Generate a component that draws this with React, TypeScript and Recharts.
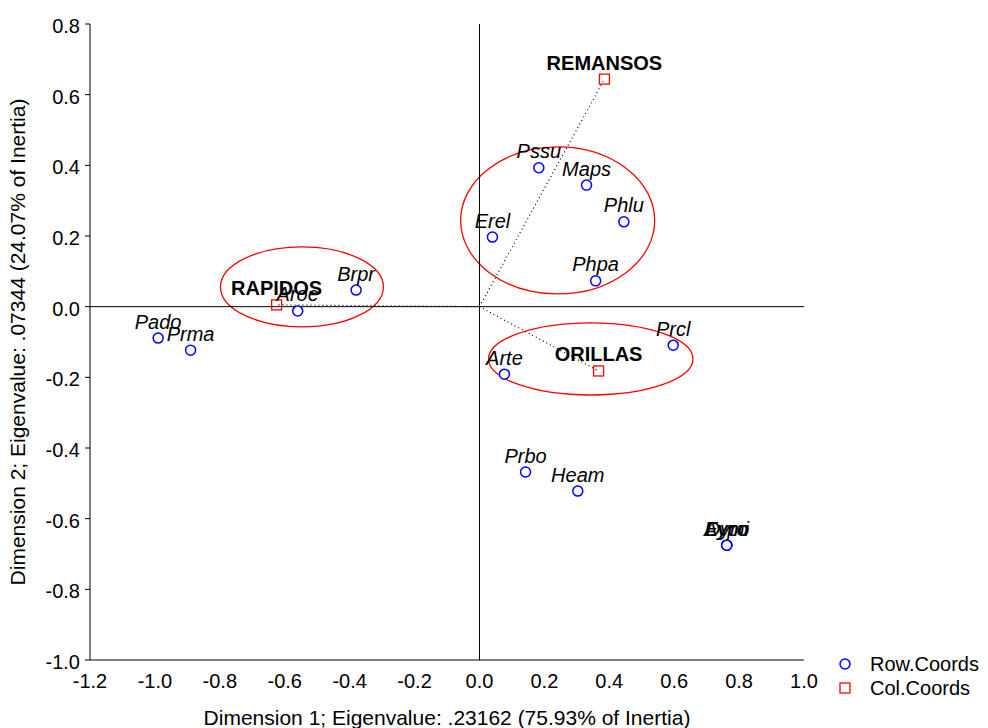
import React from 'react';
import {
  ScatterChart, Scatter, XAxis, YAxis, ReferenceLine, ReferenceArea, LabelList,
} from 'recharts';

const FONT = '"Liberation Sans", Arial, Helvetica, sans-serif';

// Row.Coords — species on dimensions 1 and 2
const rowNames = ['Pado', 'Prma', 'Aroe', 'Brpr', 'Erel', 'Pssu', 'Maps', 'Phlu', 'Phpa', 'Prcl', 'Arte', 'Prbo', 'Heam', 'Aypo', 'Eymi', 'Dyro'];
const rowDim1 = [-0.99, -0.89, -0.56, -0.38, 0.04, 0.183, 0.33, 0.445, 0.358, 0.597, 0.077, 0.142, 0.303, 0.762, 0.762, 0.762];
const rowDim2 = [-0.089, -0.123, -0.012, 0.047, 0.197, 0.393, 0.344, 0.24, 0.073, -0.109, -0.191, -0.468, -0.522, -0.675, -0.675, -0.675];

// Col.Coords — habitat types
const colNames = ['REMANSOS', 'RAPIDOS', 'ORILLAS'];
const colDim1 = [0.385, -0.625, 0.367];
const colDim2 = [0.644, 0.005, -0.182];

// grouping ellipses (centre + half axes, in axis units)
const groupCx = [0.241, -0.547, 0.343];
const groupCy = [0.244, 0.056, -0.148];
const groupRx = [0.299, 0.251, 0.315];
const groupRy = [0.208, 0.113, 0.102];

const xTicks = [-1.2, -1.0, -0.8, -0.6, -0.4, -0.2, 0.0, 0.2, 0.4, 0.6, 0.8, 1.0];
const xTicksAll = [-1.2, -1.1, -1.0, -0.9, -0.8, -0.7, -0.6, -0.5, -0.4, -0.3, -0.2, -0.1, 0.0, 0.1, 0.2, 0.3, 0.4, 0.5, 0.6, 0.7, 0.8, 0.9, 1.0];
const yTicks = [-1.0, -0.8, -0.6, -0.4, -0.2, 0.0, 0.2, 0.4, 0.6, 0.8];
const yTicksMinor = [-0.9, -0.7, -0.5, -0.3, -0.1, 0.1, 0.3, 0.5, 0.7];
const yTicksAll = [-1.0, -0.9, -0.8, -0.7, -0.6, -0.5, -0.4, -0.3, -0.2, -0.1, 0.0, 0.1, 0.2, 0.3, 0.4, 0.5, 0.6, 0.7, 0.8];

const rows = rowNames.map((name, i) => ({ name, x: rowDim1[i], y: rowDim2[i] }));
const cols = colNames.map((name, i) => ({ name, x: colDim1[i], y: colDim2[i] }));
const groups = groupCx.map((cx, i) => ({
  x1: cx - groupRx[i], x2: cx + groupRx[i],
  y1: groupCy[i] - groupRy[i], y2: groupCy[i] + groupRy[i],
}));

const fmt = (v: number) => v.toFixed(1);

const RowDot = (p: any) => (
  <circle cx={p.cx} cy={p.cy} r={5} fill="#fff" stroke="#0000ff" strokeWidth={1.5} />
);
const ColBox = (p: any) => (
  <rect x={p.cx - 5} y={p.cy - 5} width={10} height={10} fill="none" stroke="#ff0000" strokeWidth={1.3} />
);
// ellipse inscribed in the reference area box
const Ellipse = (p: any) => (
  <ellipse
    cx={p.x + p.width / 2}
    cy={p.y + p.height / 2}
    rx={Math.abs(p.width) / 2}
    ry={Math.abs(p.height) / 2}
    fill="none"
    stroke="#ff0000"
    strokeWidth={1.3}
  />
);

const tickStyle = { fontSize: 20, fill: '#000', fontFamily: FONT };

const XTitle = (p: any) => {
  const vb = p.viewBox;
  return (
    <text x={vb.x + vb.width / 2} y={725} textAnchor="middle" fontSize={21} fontFamily={FONT} fill="#000">
      Dimension 1; Eigenvalue: .23162 (75.93% of Inertia)
    </text>
  );
};
const YTitle = (p: any) => {
  const vb = p.viewBox;
  const cy = vb.y + vb.height / 2;
  return (
    <text transform={`translate(25, ${cy}) rotate(-90)`} textAnchor="middle" fontSize={21} fontFamily={FONT} fill="#000">
      Dimension 2; Eigenvalue: .07344 (24.07% of Inertia)
    </text>
  );
};

export default function App() {
  return (
    <div style={{ position: 'absolute', left: 0, top: 0, width: 988, height: 728, background: '#fff', fontFamily: FONT }}>
      <ScatterChart width={988} height={728} margin={{ top: 24, right: 184, bottom: 0, left: 0 }}>
        <XAxis
          xAxisId="x" type="number" dataKey="x" domain={[-1.2, 1]} allowDataOverflow
          ticks={xTicks} tickFormatter={fmt} tickLine={false} tickSize={6} tickMargin={8}
          axisLine={{ stroke: '#000' }} tick={tickStyle} height={68} label={XTitle}
        />
        <XAxis
          xAxisId="xMinor" type="number" domain={[-1.2, 1]} allowDataOverflow mirror
          ticks={xTicksAll} tick={false} tickSize={5} axisLine={false} tickLine={{ stroke: '#000' }} height={0}
        />
        <XAxis
          xAxisId="xTop" type="number" orientation="top" domain={[-1.2, 1]} allowDataOverflow mirror
          ticks={xTicksAll} tick={false} tickSize={5} axisLine={{ stroke: '#000' }} tickLine={{ stroke: '#000' }} height={0}
        />
        <YAxis
          yAxisId="y" type="number" dataKey="y" domain={[-1, 0.8]} allowDataOverflow
          ticks={yTicks} tickFormatter={fmt} tickSize={5} tickMargin={5}
          axisLine={{ stroke: '#000' }} tickLine={{ stroke: '#000' }} tick={{ ...tickStyle, dy: 2 }} width={90} label={YTitle}
        />
        <YAxis
          yAxisId="yMinor" type="number" domain={[-1, 0.8]} allowDataOverflow mirror
          ticks={yTicksMinor} tick={false} tickSize={5} axisLine={false} tickLine={{ stroke: '#000' }} width={0}
        />
        <YAxis
          yAxisId="yRight" type="number" orientation="right" domain={[-1, 0.8]} allowDataOverflow mirror
          ticks={yTicksAll} tick={false} tickSize={5} axisLine={{ stroke: '#000' }} tickLine={{ stroke: '#000' }} width={0}
        />

        {groups.map((g, i) => (
          <ReferenceArea
            key={`grp-${i}`} xAxisId="x" yAxisId="y"
            x1={g.x1} x2={g.x2} y1={g.y1} y2={g.y2} shape={Ellipse}
          />
        ))}
        <ReferenceLine xAxisId="x" yAxisId="y" x={0} stroke="#000" strokeWidth={1} />
        <ReferenceLine xAxisId="x" yAxisId="y" y={0} stroke="#000" strokeWidth={1} />
        {cols.map(c => (
          <ReferenceLine
            key={`seg-${c.name}`} xAxisId="x" yAxisId="y"
            segment={[{ x: 0, y: 0 }, { x: c.x, y: c.y }]}
            stroke="#000" strokeWidth={1.2} strokeDasharray="1 3"
          />
        ))}

        <Scatter xAxisId="x" yAxisId="y" data={rows} shape={RowDot} isAnimationActive={false}>
          <LabelList dataKey="name" position="top" fontSize={20} fontStyle="italic" fontFamily={FONT} fill="#000" />
        </Scatter>
        <Scatter xAxisId="x" yAxisId="y" data={cols} shape={ColBox} isAnimationActive={false}>
          <LabelList dataKey="name" position="top" fontSize={20} fontWeight="bold" fontFamily={FONT} fill="#000" />
        </Scatter>
      </ScatterChart>

      <div style={{ position: 'absolute', left: 838, top: 652, fontSize: 20, color: '#000', lineHeight: '24px' }}>
        <div style={{ display: 'flex', alignItems: 'center', height: 24 }}>
          <svg width={14} height={14} style={{ marginRight: 18 }}>
            <circle cx={7} cy={7} r={5} fill="#fff" stroke="#0000ff" strokeWidth={1.5} />
          </svg>
          <span>Row.Coords</span>
        </div>
        <div style={{ display: 'flex', alignItems: 'center', height: 24 }}>
          <svg width={14} height={14} style={{ marginRight: 18 }}>
            <rect x={2} y={2} width={10} height={10} fill="none" stroke="#ff0000" strokeWidth={1.3} />
          </svg>
          <span>Col.Coords</span>
        </div>
      </div>
    </div>
  );
}
